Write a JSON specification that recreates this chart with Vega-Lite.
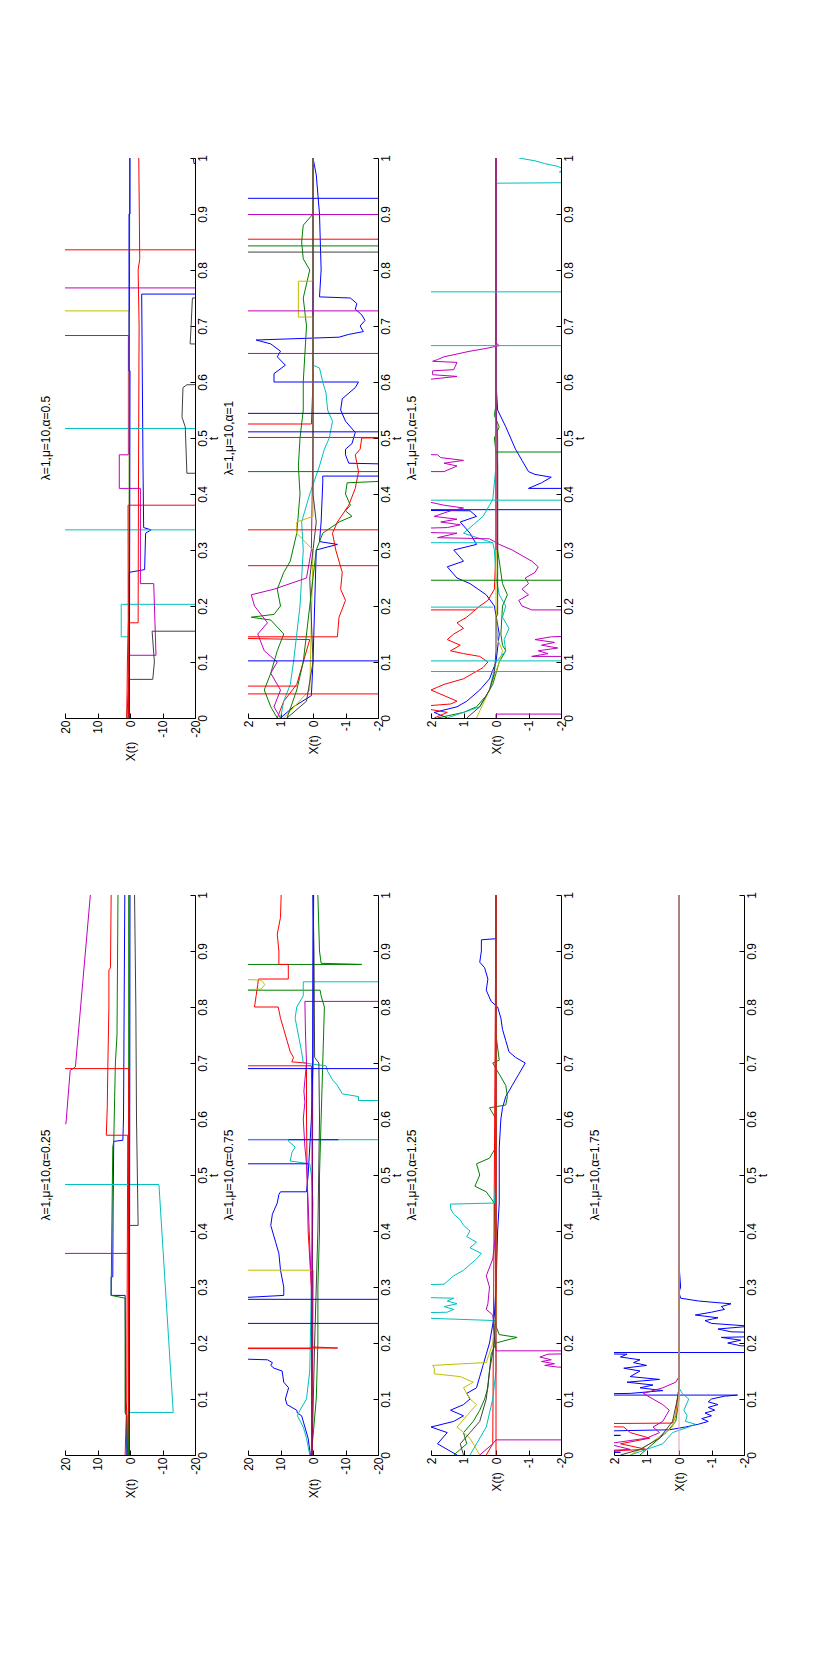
{
"$schema": "https://vega.github.io/schema/vega-lite/v6.json",
"background": "white",
"padding": {"left": 39, "top": 154, "right": 5, "bottom": 5},
"config": {
  "view": {"stroke": null},
  "font": "Liberation Sans, Arial, sans-serif",
  "axis": {"grid": false, "domainColor": "#000000", "tickColor": "#000000", "labelColor": "#000000", "titleColor": "#000000", "labelFontSize": 12, "titleFontSize": 12, "titleFontWeight": "normal", "tickSize": -5, "domainWidth": 1, "tickWidth": 1},
  "axisX": {"labelAngle": 270, "labelAlign": "right", "labelBaseline": "middle", "labelFlush": false, "labelPadding": 7, "titleAngle": 270, "titleAlign": "right", "titleBaseline": "middle", "titlePadding": 4},
  "axisY": {"labelAngle": 270, "labelAlign": "center", "labelBaseline": "top", "labelPadding": 7, "titleAngle": 270, "titleAlign": "center", "titleBaseline": "top", "titlePadding": 0},
  "title": {"orient": "left", "anchor": "middle", "frame": "group", "offset": 6, "fontSize": 12, "fontWeight": "normal", "color": "#000000"}
},
"datasets": {
"a": [
{"c":"b","g":1,"t":0,"x":0.5},{"c":"b","g":1,"t":0.26,"x":0.3},{"c":"b","g":1,"t":0.265,"x":-4.5},{"c":"b","g":1,"t":0.33,"x":-4.8},{"c":"b","g":1,"t":0.336,"x":-6.5},{"c":"b","g":1,"t":0.34,"x":-4.2},{"c":"b","g":1,"t":0.45,"x":-4},{"c":"b","g":1,"t":0.6,"x":-3.8},{"c":"b","g":1,"t":0.757,"x":-3.6},{"c":"b","g":1,"t":0.757,"x":-60},{"c":"b","g":1,"t":0.99,"x":-60},{"c":"b","g":1,"t":0.99,"x":-19.7},{"c":"b","g":1,"t":1,"x":-19.5},
{"c":"g","g":2,"t":0,"x":1},{"c":"g","g":2,"t":0.05,"x":0.5},{"c":"g","g":2,"t":0.2,"x":0.3},{"c":"g","g":2,"t":0.5,"x":0.2},{"c":"g","g":2,"t":1,"x":0.1},
{"c":"r","g":3,"t":0,"x":1},{"c":"r","g":3,"t":0.1,"x":0.8},{"c":"r","g":3,"t":0.17,"x":0.5},{"c":"r","g":3,"t":0.17,"x":-2.5},{"c":"r","g":3,"t":0.4,"x":-2.6},{"c":"r","g":3,"t":0.7,"x":-2.8},{"c":"r","g":3,"t":0.8,"x":-2.5},{"c":"r","g":3,"t":0.82,"x":-3},{"c":"r","g":3,"t":1,"x":-2.7},
{"c":"c","g":4,"t":0,"x":0.5},{"c":"c","g":4,"t":0.145,"x":0.3},{"c":"c","g":4,"t":0.145,"x":2.7},{"c":"c","g":4,"t":0.203,"x":2.7},{"c":"c","g":4,"t":0.203,"x":-60},{"c":"c","g":4,"t":0.336,"x":-60},{"c":"c","g":4,"t":0.336,"x":60},{"c":"c","g":4,"t":0.517,"x":60},{"c":"c","g":4,"t":0.517,"x":-60},{"c":"c","g":4,"t":1,"x":-60},
{"c":"m","g":5,"t":0,"x":0.5},{"c":"m","g":5,"t":0.112,"x":0.3},{"c":"m","g":5,"t":0.112,"x":-8},{"c":"m","g":5,"t":0.24,"x":-7.3},{"c":"m","g":5,"t":0.24,"x":-3.2},{"c":"m","g":5,"t":0.41,"x":-3.2},{"c":"m","g":5,"t":0.41,"x":3.3},{"c":"m","g":5,"t":0.47,"x":3.3},{"c":"m","g":5,"t":0.47,"x":0.5},{"c":"m","g":5,"t":0.683,"x":0.5},{"c":"m","g":5,"t":0.683,"x":60},{"c":"m","g":5,"t":0.768,"x":60},{"c":"m","g":5,"t":0.768,"x":-60},{"c":"m","g":5,"t":1,"x":-60},
{"c":"y","g":6,"t":0,"x":0.3},{"c":"y","g":6,"t":0.3,"x":0.2},{"c":"y","g":6,"t":0.727,"x":0.3},{"c":"y","g":6,"t":0.727,"x":60},{"c":"y","g":6,"t":1,"x":60},
{"c":"k","g":7,"t":0,"x":0.5},{"c":"k","g":7,"t":0.069,"x":0.3},{"c":"k","g":7,"t":0.069,"x":-7},{"c":"k","g":7,"t":0.1,"x":-7.5},{"c":"k","g":7,"t":0.155,"x":-6.8},{"c":"k","g":7,"t":0.155,"x":-60},{"c":"k","g":7,"t":0.437,"x":-60},{"c":"k","g":7,"t":0.437,"x":-17.5},{"c":"k","g":7,"t":0.52,"x":-17},{"c":"k","g":7,"t":0.537,"x":-16},{"c":"k","g":7,"t":0.59,"x":-16.3},{"c":"k","g":7,"t":0.595,"x":-17.5},{"c":"k","g":7,"t":0.6,"x":-60},{"c":"k","g":7,"t":0.665,"x":-60},{"c":"k","g":7,"t":0.668,"x":-18.5},{"c":"k","g":7,"t":0.7,"x":-18.8},{"c":"k","g":7,"t":0.75,"x":-19.2},{"c":"k","g":7,"t":0.752,"x":-60},{"c":"k","g":7,"t":1,"x":-60},
{"c":"b","g":8,"t":0,"x":0.2},{"c":"b","g":8,"t":0.62,"x":0},{"c":"b","g":8,"t":0.62,"x":0.3},{"c":"b","g":8,"t":0.9,"x":0.3},{"c":"b","g":8,"t":0.9,"x":0},{"c":"b","g":8,"t":1,"x":0},
{"c":"r","g":9,"t":0,"x":0.5},{"c":"r","g":9,"t":0.38,"x":0.6},{"c":"r","g":9,"t":0.38,"x":-60},{"c":"r","g":9,"t":0.836,"x":-60},{"c":"r","g":9,"t":0.836,"x":60},{"c":"r","g":9,"t":1,"x":60}
],
"b": [
{"c":"b","g":1,"t":0,"x":1},{"c":"b","g":1,"t":0.02,"x":0.6},{"c":"b","g":1,"t":0.04,"x":0.05},{"c":"b","g":1,"t":0.1,"x":0},{"c":"b","g":1,"t":0.2,"x":-0.05},{"c":"b","g":1,"t":0.3,"x":-0.1},{"c":"b","g":1,"t":0.31,"x":-0.75},{"c":"b","g":1,"t":0.315,"x":-0.2},{"c":"b","g":1,"t":0.35,"x":-0.25},{"c":"b","g":1,"t":0.42,"x":-0.3},{"c":"b","g":1,"t":0.432,"x":-0.3},{"c":"b","g":1,"t":0.432,"x":-5},{"c":"b","g":1,"t":0.45,"x":-5},{"c":"b","g":1,"t":0.455,"x":-1.1},{"c":"b","g":1,"t":0.47,"x":-1},{"c":"b","g":1,"t":0.48,"x":-1},{"c":"b","g":1,"t":0.49,"x":-1.2},{"c":"b","g":1,"t":0.51,"x":-1.3},{"c":"b","g":1,"t":0.53,"x":-1},{"c":"b","g":1,"t":0.55,"x":-0.85},{"c":"b","g":1,"t":0.57,"x":-0.9},{"c":"b","g":1,"t":0.59,"x":-1.3},{"c":"b","g":1,"t":0.6,"x":-1.4},{"c":"b","g":1,"t":0.6,"x":1.2},{"c":"b","g":1,"t":0.615,"x":1.2},{"c":"b","g":1,"t":0.63,"x":0.85},{"c":"b","g":1,"t":0.645,"x":1.1},{"c":"b","g":1,"t":0.655,"x":1},{"c":"b","g":1,"t":0.668,"x":1.3},{"c":"b","g":1,"t":0.675,"x":1.75},{"c":"b","g":1,"t":0.68,"x":-0.8},{"c":"b","g":1,"t":0.685,"x":-1.1},{"c":"b","g":1,"t":0.69,"x":-1.55},{"c":"b","g":1,"t":0.7,"x":-1.45},{"c":"b","g":1,"t":0.71,"x":-1.6},{"c":"b","g":1,"t":0.72,"x":-1.5},{"c":"b","g":1,"t":0.73,"x":-1.3},{"c":"b","g":1,"t":0.74,"x":-1.35},{"c":"b","g":1,"t":0.75,"x":-1.15},{"c":"b","g":1,"t":0.752,"x":-0.2},{"c":"b","g":1,"t":0.8,"x":-0.25},{"c":"b","g":1,"t":0.9,"x":-0.2},{"c":"b","g":1,"t":0.97,"x":-0.1},{"c":"b","g":1,"t":1,"x":0},
{"c":"g","g":2,"t":0,"x":1.1},{"c":"g","g":2,"t":0.02,"x":1.3},{"c":"g","g":2,"t":0.05,"x":1.5},{"c":"g","g":2,"t":0.08,"x":1.3},{"c":"g","g":2,"t":0.12,"x":1.1},{"c":"g","g":2,"t":0.15,"x":0.9},{"c":"g","g":2,"t":0.175,"x":1.3},{"c":"g","g":2,"t":0.18,"x":1.9},{"c":"g","g":2,"t":0.185,"x":1.2},{"c":"g","g":2,"t":0.2,"x":1},{"c":"g","g":2,"t":0.23,"x":1.1},{"c":"g","g":2,"t":0.26,"x":0.9},{"c":"g","g":2,"t":0.28,"x":0.7},{"c":"g","g":2,"t":0.33,"x":0.5},{"c":"g","g":2,"t":0.4,"x":0.4},{"c":"g","g":2,"t":0.45,"x":0.45},{"c":"g","g":2,"t":0.5,"x":0.4},{"c":"g","g":2,"t":0.55,"x":0.3},{"c":"g","g":2,"t":0.6,"x":0.3},{"c":"g","g":2,"t":0.65,"x":0.25},{"c":"g","g":2,"t":0.7,"x":0.2},{"c":"g","g":2,"t":0.75,"x":0.3},{"c":"g","g":2,"t":0.8,"x":0.1},{"c":"g","g":2,"t":0.82,"x":0.3},{"c":"g","g":2,"t":0.85,"x":0.35},{"c":"g","g":2,"t":0.88,"x":0.3},{"c":"g","g":2,"t":0.9,"x":0},{"c":"g","g":2,"t":1,"x":0},
{"c":"r","g":3,"t":0,"x":1.1},{"c":"r","g":3,"t":0.03,"x":0.9},{"c":"r","g":3,"t":0.06,"x":0.5},{"c":"r","g":3,"t":0.1,"x":0.3},{"c":"r","g":3,"t":0.14,"x":0.1},{"c":"r","g":3,"t":0.145,"x":5},{"c":"r","g":3,"t":0.145,"x":-0.75},{"c":"r","g":3,"t":0.18,"x":-0.8},{"c":"r","g":3,"t":0.21,"x":-1},{"c":"r","g":3,"t":0.23,"x":-0.85},{"c":"r","g":3,"t":0.26,"x":-0.9},{"c":"r","g":3,"t":0.3,"x":-0.7},{"c":"r","g":3,"t":0.33,"x":-0.6},{"c":"r","g":3,"t":0.35,"x":-0.75},{"c":"r","g":3,"t":0.38,"x":-1.1},{"c":"r","g":3,"t":0.41,"x":-1.3},{"c":"r","g":3,"t":0.44,"x":-1.4},{"c":"r","g":3,"t":0.47,"x":-1.3},{"c":"r","g":3,"t":0.48,"x":-1.45},{"c":"r","g":3,"t":0.5,"x":-1.5},{"c":"r","g":3,"t":0.501,"x":-5},{"c":"r","g":3,"t":0.501,"x":5},{"c":"r","g":3,"t":0.525,"x":5},{"c":"r","g":3,"t":0.525,"x":0.05},{"c":"r","g":3,"t":0.6,"x":0},{"c":"r","g":3,"t":1,"x":0},
{"c":"c","g":4,"t":0,"x":1},{"c":"c","g":4,"t":0.03,"x":0.9},{"c":"c","g":4,"t":0.06,"x":0.7},{"c":"c","g":4,"t":0.1,"x":0.6},{"c":"c","g":4,"t":0.15,"x":0.5},{"c":"c","g":4,"t":0.2,"x":0.4},{"c":"c","g":4,"t":0.25,"x":0.35},{"c":"c","g":4,"t":0.3,"x":0.3},{"c":"c","g":4,"t":0.35,"x":0.35},{"c":"c","g":4,"t":0.4,"x":0.1},{"c":"c","g":4,"t":0.45,"x":-0.2},{"c":"c","g":4,"t":0.48,"x":-0.35},{"c":"c","g":4,"t":0.5,"x":-0.5},{"c":"c","g":4,"t":0.53,"x":-0.6},{"c":"c","g":4,"t":0.55,"x":-0.45},{"c":"c","g":4,"t":0.58,"x":-0.4},{"c":"c","g":4,"t":0.6,"x":-0.3},{"c":"c","g":4,"t":0.625,"x":-0.2},{"c":"c","g":4,"t":0.63,"x":0},{"c":"c","g":4,"t":1,"x":0},
{"c":"m","g":5,"t":0,"x":1},{"c":"m","g":5,"t":0.02,"x":1.2},{"c":"m","g":5,"t":0.05,"x":1},{"c":"m","g":5,"t":0.08,"x":1.3},{"c":"m","g":5,"t":0.1,"x":1.1},{"c":"m","g":5,"t":0.12,"x":1.5},{"c":"m","g":5,"t":0.15,"x":1.7},{"c":"m","g":5,"t":0.17,"x":1.4},{"c":"m","g":5,"t":0.2,"x":1.8},{"c":"m","g":5,"t":0.22,"x":1.9},{"c":"m","g":5,"t":0.23,"x":1.2},{"c":"m","g":5,"t":0.25,"x":0.2},{"c":"m","g":5,"t":0.3,"x":0.05},{"c":"m","g":5,"t":0.5,"x":0},{"c":"m","g":5,"t":1,"x":0},
{"c":"y","g":6,"t":0,"x":0.9},{"c":"y","g":6,"t":0.05,"x":0.1},{"c":"y","g":6,"t":0.3,"x":0},{"c":"y","g":6,"t":0.33,"x":0.5},{"c":"y","g":6,"t":0.35,"x":0.5},{"c":"y","g":6,"t":0.36,"x":0},{"c":"y","g":6,"t":0.716,"x":0},{"c":"y","g":6,"t":0.716,"x":0.45},{"c":"y","g":6,"t":0.78,"x":0.45},{"c":"y","g":6,"t":0.78,"x":0},{"c":"y","g":6,"t":1,"x":0},
{"c":"k","g":7,"t":0,"x":0.8},{"c":"k","g":7,"t":0.03,"x":0.2},{"c":"k","g":7,"t":0.1,"x":0},{"c":"k","g":7,"t":0.25,"x":0.1},{"c":"k","g":7,"t":0.35,"x":-0.1},{"c":"k","g":7,"t":0.4,"x":0},{"c":"k","g":7,"t":1,"x":0},
{"c":"g","g":8,"t":0,"x":0.8},{"c":"g","g":8,"t":0.05,"x":0.5},{"c":"g","g":8,"t":0.1,"x":0.3},{"c":"g","g":8,"t":0.2,"x":0.1},{"c":"g","g":8,"t":0.25,"x":0},{"c":"g","g":8,"t":0.3,"x":-0.1},{"c":"g","g":8,"t":0.33,"x":-0.3},{"c":"g","g":8,"t":0.35,"x":-0.8},{"c":"g","g":8,"t":0.36,"x":-1.2},{"c":"g","g":8,"t":0.37,"x":-1},{"c":"g","g":8,"t":0.38,"x":-1.15},{"c":"g","g":8,"t":0.4,"x":-1},{"c":"g","g":8,"t":0.42,"x":-1.05},{"c":"g","g":8,"t":0.43,"x":-5},{"c":"g","g":8,"t":0.44,"x":-5},{"c":"g","g":8,"t":0.44,"x":5},{"c":"g","g":8,"t":0.843,"x":5},{"c":"g","g":8,"t":0.843,"x":-5},{"c":"g","g":8,"t":1,"x":-5},
{"c":"r","g":10,"t":0.043,"x":5},{"c":"r","g":10,"t":0.043,"x":-5},
{"c":"r","g":11,"t":0.057,"x":5},{"c":"r","g":11,"t":0.057,"x":0.5},
{"c":"b","g":12,"t":0.102,"x":5},{"c":"b","g":12,"t":0.102,"x":-5},
{"c":"r","g":13,"t":0.272,"x":5},{"c":"r","g":13,"t":0.272,"x":-5},
{"c":"r","g":14,"t":0.336,"x":5},{"c":"r","g":14,"t":0.336,"x":-5},
{"c":"b","g":15,"t":0.511,"x":5},{"c":"b","g":15,"t":0.511,"x":-5},
{"c":"b","g":16,"t":0.544,"x":5},{"c":"b","g":16,"t":0.544,"x":-5},
{"c":"m","g":17,"t":0.651,"x":5},{"c":"m","g":17,"t":0.651,"x":-5},
{"c":"m","g":18,"t":0.727,"x":5},{"c":"m","g":18,"t":0.727,"x":-5},
{"c":"k","g":19,"t":0.832,"x":5},{"c":"k","g":19,"t":0.832,"x":-5},
{"c":"r","g":20,"t":0.855,"x":5},{"c":"r","g":20,"t":0.855,"x":-5},
{"c":"m","g":21,"t":0.899,"x":5},{"c":"m","g":21,"t":0.899,"x":-5},
{"c":"b","g":22,"t":0.928,"x":5},{"c":"b","g":22,"t":0.928,"x":-5}
],
"c": [
{"c":"b","g":1,"t":0,"x":1.5},{"c":"b","g":1,"t":0.01,"x":1.9},{"c":"b","g":1,"t":0.02,"x":1.2},{"c":"b","g":1,"t":0.03,"x":0.9},{"c":"b","g":1,"t":0.05,"x":0.5},{"c":"b","g":1,"t":0.07,"x":0.2},{"c":"b","g":1,"t":0.1,"x":0},{"c":"b","g":1,"t":0.15,"x":-0.1},{"c":"b","g":1,"t":0.2,"x":0.05},{"c":"b","g":1,"t":0.22,"x":0.3},{"c":"b","g":1,"t":0.24,"x":0.8},{"c":"b","g":1,"t":0.25,"x":1.2},{"c":"b","g":1,"t":0.27,"x":1.5},{"c":"b","g":1,"t":0.28,"x":1},{"c":"b","g":1,"t":0.3,"x":1.3},{"c":"b","g":1,"t":0.31,"x":0.6},{"c":"b","g":1,"t":0.33,"x":0.8},{"c":"b","g":1,"t":0.35,"x":1.1},{"c":"b","g":1,"t":0.36,"x":0.6},{"c":"b","g":1,"t":0.37,"x":0.8},{"c":"b","g":1,"t":0.372,"x":5},{"c":"b","g":1,"t":0.372,"x":-5},{"c":"b","g":1,"t":0.41,"x":-5},{"c":"b","g":1,"t":0.41,"x":-1},{"c":"b","g":1,"t":0.42,"x":-1.4},{"c":"b","g":1,"t":0.43,"x":-1.7},{"c":"b","g":1,"t":0.435,"x":-1.2},{"c":"b","g":1,"t":0.44,"x":-1},{"c":"b","g":1,"t":0.45,"x":-0.9},{"c":"b","g":1,"t":0.46,"x":-0.8},{"c":"b","g":1,"t":0.48,"x":-0.6},{"c":"b","g":1,"t":0.5,"x":-0.45},{"c":"b","g":1,"t":0.52,"x":-0.3},{"c":"b","g":1,"t":0.55,"x":-0.05},{"c":"b","g":1,"t":0.6,"x":0},{"c":"b","g":1,"t":1,"x":0},
{"c":"g","g":2,"t":0,"x":1.8},{"c":"g","g":2,"t":0.01,"x":1},{"c":"g","g":2,"t":0.02,"x":0.6},{"c":"g","g":2,"t":0.04,"x":0.3},{"c":"g","g":2,"t":0.06,"x":0.1},{"c":"g","g":2,"t":0.1,"x":-0.1},{"c":"g","g":2,"t":0.12,"x":-0.3},{"c":"g","g":2,"t":0.13,"x":-0.2},{"c":"g","g":2,"t":0.15,"x":-0.15},{"c":"g","g":2,"t":0.2,"x":-0.2},{"c":"g","g":2,"t":0.22,"x":-0.35},{"c":"g","g":2,"t":0.24,"x":-0.2},{"c":"g","g":2,"t":0.3,"x":-0.05},{"c":"g","g":2,"t":0.45,"x":-0.05},{"c":"g","g":2,"t":0.475,"x":0},{"c":"g","g":2,"t":0.5,"x":0.05},{"c":"g","g":2,"t":0.52,"x":-0.1},{"c":"g","g":2,"t":0.54,"x":0.05},{"c":"g","g":2,"t":0.56,"x":0},{"c":"g","g":2,"t":1,"x":0},
{"c":"r","g":3,"t":0,"x":1.9},{"c":"r","g":3,"t":0.01,"x":1.5},{"c":"r","g":3,"t":0.02,"x":2.5},{"c":"r","g":3,"t":0.025,"x":1.4},{"c":"r","g":3,"t":0.03,"x":1.2},{"c":"r","g":3,"t":0.04,"x":1.6},{"c":"r","g":3,"t":0.05,"x":2},{"c":"r","g":3,"t":0.055,"x":1.8},{"c":"r","g":3,"t":0.06,"x":1.6},{"c":"r","g":3,"t":0.07,"x":1},{"c":"r","g":3,"t":0.08,"x":0.7},{"c":"r","g":3,"t":0.09,"x":0.4},{"c":"r","g":3,"t":0.1,"x":0.25},{"c":"r","g":3,"t":0.11,"x":0.5},{"c":"r","g":3,"t":0.115,"x":1},{"c":"r","g":3,"t":0.12,"x":1.4},{"c":"r","g":3,"t":0.13,"x":1.1},{"c":"r","g":3,"t":0.14,"x":1.5},{"c":"r","g":3,"t":0.15,"x":1.3},{"c":"r","g":3,"t":0.16,"x":1},{"c":"r","g":3,"t":0.17,"x":1.2},{"c":"r","g":3,"t":0.18,"x":0.9},{"c":"r","g":3,"t":0.19,"x":0.7},{"c":"r","g":3,"t":0.2,"x":0.5},{"c":"r","g":3,"t":0.21,"x":0.25},{"c":"r","g":3,"t":0.23,"x":0.05},{"c":"r","g":3,"t":0.3,"x":0},{"c":"r","g":3,"t":1,"x":0},
{"c":"c","g":4,"t":0,"x":1.5},{"c":"c","g":4,"t":0.02,"x":0.5},{"c":"c","g":4,"t":0.05,"x":0.2},{"c":"c","g":4,"t":0.1,"x":0},{"c":"c","g":4,"t":0.12,"x":-0.3},{"c":"c","g":4,"t":0.14,"x":-0.25},{"c":"c","g":4,"t":0.16,"x":-0.4},{"c":"c","g":4,"t":0.18,"x":-0.2},{"c":"c","g":4,"t":0.2,"x":-0.3},{"c":"c","g":4,"t":0.22,"x":-0.1},{"c":"c","g":4,"t":0.25,"x":0},{"c":"c","g":4,"t":0.3,"x":0.05},{"c":"c","g":4,"t":0.313,"x":0.1},{"c":"c","g":4,"t":0.33,"x":1},{"c":"c","g":4,"t":0.345,"x":0.7},{"c":"c","g":4,"t":0.36,"x":0.4},{"c":"c","g":4,"t":0.38,"x":0.2},{"c":"c","g":4,"t":0.39,"x":0.1},{"c":"c","g":4,"t":0.45,"x":0},{"c":"c","g":4,"t":0.955,"x":0},{"c":"c","g":4,"t":0.957,"x":-5},{"c":"c","g":4,"t":0.97,"x":-5},{"c":"c","g":4,"t":0.975,"x":-1.95},{"c":"c","g":4,"t":0.98,"x":-2.1},{"c":"c","g":4,"t":0.985,"x":-1.9},{"c":"c","g":4,"t":0.99,"x":-1.5},{"c":"c","g":4,"t":0.995,"x":-1.2},{"c":"c","g":4,"t":1,"x":-0.7},
{"c":"m","g":5,"t":0,"x":0},{"c":"m","g":5,"t":0.007,"x":0},{"c":"m","g":5,"t":0.007,"x":-5},{"c":"m","g":5,"t":0.11,"x":-5},{"c":"m","g":5,"t":0.11,"x":-1.1},{"c":"m","g":5,"t":0.115,"x":-1.6},{"c":"m","g":5,"t":0.12,"x":-1.3},{"c":"m","g":5,"t":0.125,"x":-1.9},{"c":"m","g":5,"t":0.13,"x":-1.4},{"c":"m","g":5,"t":0.135,"x":-1.8},{"c":"m","g":5,"t":0.14,"x":-1.2},{"c":"m","g":5,"t":0.145,"x":-1.7},{"c":"m","g":5,"t":0.15,"x":-5},{"c":"m","g":5,"t":0.193,"x":-5},{"c":"m","g":5,"t":0.193,"x":-1.1},{"c":"m","g":5,"t":0.2,"x":-0.8},{"c":"m","g":5,"t":0.21,"x":-0.7},{"c":"m","g":5,"t":0.22,"x":-1},{"c":"m","g":5,"t":0.23,"x":-0.8},{"c":"m","g":5,"t":0.24,"x":-1},{"c":"m","g":5,"t":0.25,"x":-0.9},{"c":"m","g":5,"t":0.26,"x":-1.2},{"c":"m","g":5,"t":0.27,"x":-1.3},{"c":"m","g":5,"t":0.28,"x":-1.1},{"c":"m","g":5,"t":0.29,"x":-0.8},{"c":"m","g":5,"t":0.3,"x":-0.5},{"c":"m","g":5,"t":0.31,"x":-0.1},{"c":"m","g":5,"t":0.32,"x":0.2},{"c":"m","g":5,"t":0.322,"x":1.8},{"c":"m","g":5,"t":0.33,"x":1.2},{"c":"m","g":5,"t":0.335,"x":5},{"c":"m","g":5,"t":0.34,"x":1.5},{"c":"m","g":5,"t":0.345,"x":1.1},{"c":"m","g":5,"t":0.35,"x":1.7},{"c":"m","g":5,"t":0.355,"x":1.2},{"c":"m","g":5,"t":0.36,"x":1.9},{"c":"m","g":5,"t":0.37,"x":1.4},{"c":"m","g":5,"t":0.375,"x":1},{"c":"m","g":5,"t":0.38,"x":1.6},{"c":"m","g":5,"t":0.385,"x":2},{"c":"m","g":5,"t":0.39,"x":5},{"c":"m","g":5,"t":0.44,"x":5},{"c":"m","g":5,"t":0.44,"x":1.6},{"c":"m","g":5,"t":0.45,"x":1.2},{"c":"m","g":5,"t":0.455,"x":1.6},{"c":"m","g":5,"t":0.46,"x":1},{"c":"m","g":5,"t":0.465,"x":1.7},{"c":"m","g":5,"t":0.47,"x":1.8},{"c":"m","g":5,"t":0.475,"x":5},{"c":"m","g":5,"t":0.6,"x":5},{"c":"m","g":5,"t":0.605,"x":2},{"c":"m","g":5,"t":0.61,"x":1.2},{"c":"m","g":5,"t":0.613,"x":1.95},{"c":"m","g":5,"t":0.62,"x":1.95},{"c":"m","g":5,"t":0.622,"x":1.3},{"c":"m","g":5,"t":0.635,"x":1.2},{"c":"m","g":5,"t":0.637,"x":1.95},{"c":"m","g":5,"t":0.64,"x":1.8},{"c":"m","g":5,"t":0.645,"x":1.6},{"c":"m","g":5,"t":0.65,"x":1.2},{"c":"m","g":5,"t":0.655,"x":0.8},{"c":"m","g":5,"t":0.66,"x":0.3},{"c":"m","g":5,"t":0.665,"x":-0.1},{"c":"m","g":5,"t":0.67,"x":0},{"c":"m","g":5,"t":1,"x":0},
{"c":"y","g":6,"t":0,"x":0.6},{"c":"y","g":6,"t":0.05,"x":0.2},{"c":"y","g":6,"t":0.1,"x":-0.1},{"c":"y","g":6,"t":0.12,"x":-0.2},{"c":"y","g":6,"t":0.14,"x":-0.05},{"c":"y","g":6,"t":0.2,"x":0},{"c":"y","g":6,"t":1,"x":0},
{"c":"k","g":7,"t":0,"x":0.9},{"c":"k","g":7,"t":0.02,"x":0.5},{"c":"k","g":7,"t":0.05,"x":0.2},{"c":"k","g":7,"t":0.08,"x":0.05},{"c":"k","g":7,"t":0.12,"x":0},{"c":"k","g":7,"t":0.18,"x":0},{"c":"k","g":7,"t":0.185,"x":-0.05},{"c":"k","g":7,"t":0.5,"x":-0.05},{"c":"k","g":7,"t":0.55,"x":0},{"c":"k","g":7,"t":1,"x":0},
{"c":"m","g":8,"t":0.3,"x":0},{"c":"m","g":8,"t":1,"x":0},
{"c":"c","g":10,"t":0.083,"x":5},{"c":"c","g":10,"t":0.083,"x":-5},
{"c":"c","g":11,"t":0.102,"x":5},{"c":"c","g":11,"t":0.102,"x":-5},
{"c":"c","g":12,"t":0.198,"x":5},{"c":"c","g":12,"t":0.198,"x":0.1},
{"c":"c","g":13,"t":0.313,"x":5},{"c":"c","g":13,"t":0.313,"x":0.1},
{"c":"c","g":14,"t":0.389,"x":5},{"c":"c","g":14,"t":0.389,"x":-5},
{"c":"c","g":15,"t":0.665,"x":5},{"c":"c","g":15,"t":0.665,"x":-5},
{"c":"c","g":16,"t":0.761,"x":5},{"c":"c","g":16,"t":0.761,"x":-5},
{"c":"g","g":17,"t":0.246,"x":5},{"c":"g","g":17,"t":0.246,"x":-5},
{"c":"g","g":18,"t":0.475,"x":0},{"c":"g","g":18,"t":0.475,"x":-5},
{"c":"r","g":19,"t":0.193,"x":5},{"c":"r","g":19,"t":0.193,"x":0.65}
],
"d": [
{"c":"b","g":1,"t":0,"x":1},{"c":"b","g":1,"t":0.07,"x":1},{"c":"b","g":1,"t":0.08,"x":1.4},{"c":"b","g":1,"t":0.2,"x":1.4},{"c":"b","g":1,"t":0.285,"x":1.5},{"c":"b","g":1,"t":0.285,"x":5.8},{"c":"b","g":1,"t":0.318,"x":5.8},{"c":"b","g":1,"t":0.318,"x":5.3},{"c":"b","g":1,"t":0.45,"x":5.2},{"c":"b","g":1,"t":0.56,"x":5},{"c":"b","g":1,"t":0.562,"x":2.2},{"c":"b","g":1,"t":0.6,"x":2},{"c":"b","g":1,"t":0.8,"x":1.8},{"c":"b","g":1,"t":1,"x":1.6},
{"c":"g","g":2,"t":0,"x":0.8},{"c":"g","g":2,"t":0.07,"x":1},{"c":"g","g":2,"t":0.075,"x":1.5},{"c":"g","g":2,"t":0.28,"x":1.5},{"c":"g","g":2,"t":0.285,"x":5.8},{"c":"g","g":2,"t":0.4,"x":5.6},{"c":"g","g":2,"t":0.55,"x":5.3},{"c":"g","g":2,"t":0.56,"x":5},{"c":"g","g":2,"t":0.7,"x":4.5},{"c":"g","g":2,"t":0.75,"x":4},{"c":"g","g":2,"t":1,"x":3.7},
{"c":"r","g":3,"t":0,"x":1.5},{"c":"r","g":3,"t":0.1,"x":1},{"c":"r","g":3,"t":0.4,"x":0.8},{"c":"r","g":3,"t":0.571,"x":0.7},{"c":"r","g":3,"t":0.571,"x":7.3},{"c":"r","g":3,"t":0.62,"x":7},{"c":"r","g":3,"t":0.7,"x":6.8},{"c":"r","g":3,"t":0.8,"x":6.5},{"c":"r","g":3,"t":0.866,"x":6.5},{"c":"r","g":3,"t":0.87,"x":6},{"c":"r","g":3,"t":1,"x":5.8},
{"c":"c","g":4,"t":0,"x":0.5},{"c":"c","g":4,"t":0.076,"x":0.4},{"c":"c","g":4,"t":0.076,"x":-13.3},{"c":"c","g":4,"t":0.483,"x":-8.9},{"c":"c","g":4,"t":0.483,"x":25},{"c":"c","g":4,"t":1,"x":25},
{"c":"m","g":5,"t":0,"x":0.5},{"c":"m","g":5,"t":0.36,"x":0.3},{"c":"m","g":5,"t":0.36,"x":25},{"c":"m","g":5,"t":0.58,"x":25},{"c":"m","g":5,"t":0.592,"x":19.7},{"c":"m","g":5,"t":0.687,"x":18.4},{"c":"m","g":5,"t":0.69,"x":17.5},{"c":"m","g":5,"t":0.693,"x":16.8},{"c":"m","g":5,"t":1,"x":12.2},
{"c":"y","g":6,"t":0,"x":0.3},{"c":"y","g":6,"t":1,"x":0.2},
{"c":"k","g":7,"t":0,"x":0.3},{"c":"k","g":7,"t":0.41,"x":0.3},{"c":"k","g":7,"t":0.41,"x":-2.5},{"c":"k","g":7,"t":0.6,"x":-2},{"c":"k","g":7,"t":0.8,"x":-1.8},{"c":"k","g":7,"t":1,"x":-1.4},
{"c":"b","g":8,"t":0,"x":0.2},{"c":"b","g":8,"t":1,"x":0},
{"c":"g","g":9,"t":0,"x":0.4},{"c":"g","g":9,"t":1,"x":0.4},
{"c":"r","g":10,"t":0,"x":0.8},{"c":"r","g":10,"t":0.1,"x":0.5},{"c":"r","g":10,"t":0.69,"x":0.4},{"c":"r","g":10,"t":0.69,"x":25},{"c":"r","g":10,"t":1,"x":25}
],
"e": [
{"c":"b","g":1,"t":0,"x":0.8},{"c":"b","g":1,"t":0.03,"x":1.5},{"c":"b","g":1,"t":0.05,"x":2.5},{"c":"b","g":1,"t":0.07,"x":3.5},{"c":"b","g":1,"t":0.075,"x":4.8},{"c":"b","g":1,"t":0.08,"x":5},{"c":"b","g":1,"t":0.09,"x":8},{"c":"b","g":1,"t":0.1,"x":8.5},{"c":"b","g":1,"t":0.12,"x":7.5},{"c":"b","g":1,"t":0.13,"x":9},{"c":"b","g":1,"t":0.15,"x":9.5},{"c":"b","g":1,"t":0.155,"x":12},{"c":"b","g":1,"t":0.16,"x":13},{"c":"b","g":1,"t":0.165,"x":12.5},{"c":"b","g":1,"t":0.17,"x":14},{"c":"b","g":1,"t":0.172,"x":25},{"c":"b","g":1,"t":0.28,"x":25},{"c":"b","g":1,"t":0.285,"x":9},{"c":"b","g":1,"t":0.3,"x":9},{"c":"b","g":1,"t":0.33,"x":10},{"c":"b","g":1,"t":0.36,"x":10.5},{"c":"b","g":1,"t":0.38,"x":11.5},{"c":"b","g":1,"t":0.41,"x":13},{"c":"b","g":1,"t":0.43,"x":12.5},{"c":"b","g":1,"t":0.45,"x":11},{"c":"b","g":1,"t":0.465,"x":10.5},{"c":"b","g":1,"t":0.47,"x":10},{"c":"b","g":1,"t":0.47,"x":2},{"c":"b","g":1,"t":0.5,"x":1.5},{"c":"b","g":1,"t":0.55,"x":1},{"c":"b","g":1,"t":0.6,"x":0.5},{"c":"b","g":1,"t":0.65,"x":0.3},{"c":"b","g":1,"t":0.7,"x":0},{"c":"b","g":1,"t":1,"x":-0.2},
{"c":"g","g":2,"t":0,"x":0.5},{"c":"g","g":2,"t":0.1,"x":-1},{"c":"g","g":2,"t":0.2,"x":-1.5},{"c":"g","g":2,"t":0.3,"x":-1.5},{"c":"g","g":2,"t":0.4,"x":-2},{"c":"g","g":2,"t":0.5,"x":-2},{"c":"g","g":2,"t":0.6,"x":-2.5},{"c":"g","g":2,"t":0.7,"x":-3},{"c":"g","g":2,"t":0.8,"x":-3.5},{"c":"g","g":2,"t":0.82,"x":-2.5},{"c":"g","g":2,"t":0.83,"x":-2.2},{"c":"g","g":2,"t":0.83,"x":25},{"c":"g","g":2,"t":0.876,"x":25},{"c":"g","g":2,"t":0.876,"x":-15},{"c":"g","g":2,"t":0.878,"x":-2.5},{"c":"g","g":2,"t":0.9,"x":-2},{"c":"g","g":2,"t":1,"x":-1.5},
{"c":"r","g":3,"t":0,"x":0.5},{"c":"r","g":3,"t":0.15,"x":0.3},{"c":"r","g":3,"t":0.3,"x":0.5},{"c":"r","g":3,"t":0.4,"x":1.5},{"c":"r","g":3,"t":0.5,"x":1.8},{"c":"r","g":3,"t":0.6,"x":2},{"c":"r","g":3,"t":0.7,"x":2},{"c":"r","g":3,"t":0.702,"x":6.5},{"c":"r","g":3,"t":0.71,"x":6},{"c":"r","g":3,"t":0.72,"x":7},{"c":"r","g":3,"t":0.74,"x":8},{"c":"r","g":3,"t":0.76,"x":9},{"c":"r","g":3,"t":0.78,"x":10},{"c":"r","g":3,"t":0.8,"x":10.7},{"c":"r","g":3,"t":0.8,"x":18},{"c":"r","g":3,"t":0.82,"x":17.5},{"c":"r","g":3,"t":0.84,"x":17},{"c":"r","g":3,"t":0.85,"x":16.8},{"c":"r","g":3,"t":0.85,"x":7.6},{"c":"r","g":3,"t":0.876,"x":7.6},{"c":"r","g":3,"t":0.876,"x":10.5},{"c":"r","g":3,"t":0.9,"x":10.5},{"c":"r","g":3,"t":0.93,"x":11},{"c":"r","g":3,"t":0.96,"x":10},{"c":"r","g":3,"t":1,"x":9.8},
{"c":"c","g":4,"t":0,"x":1},{"c":"c","g":4,"t":0.03,"x":2},{"c":"c","g":4,"t":0.05,"x":3},{"c":"c","g":4,"t":0.07,"x":4.8},{"c":"c","g":4,"t":0.08,"x":4},{"c":"c","g":4,"t":0.1,"x":2},{"c":"c","g":4,"t":0.15,"x":1},{"c":"c","g":4,"t":0.3,"x":0.5},{"c":"c","g":4,"t":0.45,"x":0},{"c":"c","g":4,"t":0.5,"x":0.5},{"c":"c","g":4,"t":0.52,"x":1},{"c":"c","g":4,"t":0.525,"x":7},{"c":"c","g":4,"t":0.54,"x":6.5},{"c":"c","g":4,"t":0.55,"x":5.5},{"c":"c","g":4,"t":0.56,"x":7.5},{"c":"c","g":4,"t":0.563,"x":7.5},{"c":"c","g":4,"t":0.563,"x":-25},{"c":"c","g":4,"t":0.633,"x":-25},{"c":"c","g":4,"t":0.633,"x":-14},{"c":"c","g":4,"t":0.64,"x":-14},{"c":"c","g":4,"t":0.645,"x":-9},{"c":"c","g":4,"t":0.66,"x":-7.5},{"c":"c","g":4,"t":0.67,"x":-6},{"c":"c","g":4,"t":0.685,"x":-4.5},{"c":"c","g":4,"t":0.695,"x":-4},{"c":"c","g":4,"t":0.7,"x":3},{"c":"c","g":4,"t":0.72,"x":3.5},{"c":"c","g":4,"t":0.75,"x":4.5},{"c":"c","g":4,"t":0.78,"x":5.5},{"c":"c","g":4,"t":0.8,"x":5},{"c":"c","g":4,"t":0.82,"x":3},{"c":"c","g":4,"t":0.845,"x":3},{"c":"c","g":4,"t":0.845,"x":-25},{"c":"c","g":4,"t":1,"x":-25},
{"c":"m","g":5,"t":0,"x":0.3},{"c":"m","g":5,"t":0.3,"x":0.5},{"c":"m","g":5,"t":0.45,"x":1.5},{"c":"m","g":5,"t":0.52,"x":2},{"c":"m","g":5,"t":0.55,"x":2.5},{"c":"m","g":5,"t":0.6,"x":3},{"c":"m","g":5,"t":0.63,"x":2.5},{"c":"m","g":5,"t":0.65,"x":2.8},{"c":"m","g":5,"t":0.7,"x":2},{"c":"m","g":5,"t":0.75,"x":2.3},{"c":"m","g":5,"t":0.81,"x":2.5},{"c":"m","g":5,"t":0.81,"x":-25},{"c":"m","g":5,"t":1,"x":-25},
{"c":"y","g":6,"t":0,"x":0.3},{"c":"y","g":6,"t":0.33,"x":-0.2},{"c":"y","g":6,"t":0.33,"x":25},{"c":"y","g":6,"t":0.83,"x":25},{"c":"y","g":6,"t":0.832,"x":16},{"c":"y","g":6,"t":0.84,"x":14.8},{"c":"y","g":6,"t":0.848,"x":16},{"c":"y","g":6,"t":0.85,"x":25},{"c":"y","g":6,"t":1,"x":25},
{"c":"k","g":7,"t":0,"x":0.3},{"c":"k","g":7,"t":0.2,"x":-0.5},{"c":"k","g":7,"t":0.4,"x":-1.5},{"c":"k","g":7,"t":0.6,"x":-2},{"c":"k","g":7,"t":0.7,"x":-1.8},{"c":"k","g":7,"t":0.71,"x":-0.5},{"c":"k","g":7,"t":0.9,"x":-0.3},{"c":"k","g":7,"t":1,"x":0},
{"c":"b","g":8,"t":0,"x":0.3},{"c":"b","g":8,"t":1,"x":0},
{"c":"r","g":9,"t":0,"x":0.3},{"c":"r","g":9,"t":0.19,"x":0.3},{"c":"r","g":9,"t":0.19,"x":25},{"c":"r","g":9,"t":0.191,"x":25},{"c":"r","g":9,"t":0.191,"x":-7.6},{"c":"r","g":9,"t":0.193,"x":0.3},{"c":"r","g":9,"t":0.6,"x":0.3},{"c":"r","g":9,"t":0.695,"x":0.5},{"c":"r","g":9,"t":0.695,"x":25},{"c":"r","g":9,"t":1,"x":25},
{"c":"b","g":10,"t":0.235,"x":25},{"c":"b","g":10,"t":0.235,"x":-25},
{"c":"b","g":11,"t":0.278,"x":25},{"c":"b","g":11,"t":0.278,"x":-25},
{"c":"b","g":12,"t":0.69,"x":25},{"c":"b","g":12,"t":0.69,"x":-25},
{"c":"b","g":13,"t":0.52,"x":25},{"c":"b","g":13,"t":0.52,"x":1.4},
{"c":"b","g":14,"t":0.563,"x":25},{"c":"b","g":14,"t":0.563,"x":-7.8},
{"c":"c","g":15,"t":0.5635,"x":25},{"c":"c","g":15,"t":0.5635,"x":7.5}
],
"f": [
{"c":"b","g":1,"t":0,"x":1.2},{"c":"b","g":1,"t":0.02,"x":1.8},{"c":"b","g":1,"t":0.04,"x":1.5},{"c":"b","g":1,"t":0.05,"x":2},{"c":"b","g":1,"t":0.06,"x":1.3},{"c":"b","g":1,"t":0.07,"x":1},{"c":"b","g":1,"t":0.08,"x":1.4},{"c":"b","g":1,"t":0.09,"x":1},{"c":"b","g":1,"t":0.1,"x":0.8},{"c":"b","g":1,"t":0.11,"x":0.9},{"c":"b","g":1,"t":0.12,"x":0.6},{"c":"b","g":1,"t":0.14,"x":0.5},{"c":"b","g":1,"t":0.16,"x":0.4},{"c":"b","g":1,"t":0.18,"x":0.3},{"c":"b","g":1,"t":0.2,"x":0.2},{"c":"b","g":1,"t":0.25,"x":0.05},{"c":"b","g":1,"t":0.3,"x":0},{"c":"b","g":1,"t":0.4,"x":-0.05},{"c":"b","g":1,"t":0.45,"x":-0.1},{"c":"b","g":1,"t":0.55,"x":-0.1},{"c":"b","g":1,"t":0.6,"x":-0.15},{"c":"b","g":1,"t":0.62,"x":-0.2},{"c":"b","g":1,"t":0.64,"x":-0.3},{"c":"b","g":1,"t":0.66,"x":-0.5},{"c":"b","g":1,"t":0.68,"x":-0.7},{"c":"b","g":1,"t":0.7,"x":-0.9},{"c":"b","g":1,"t":0.71,"x":-0.6},{"c":"b","g":1,"t":0.72,"x":-0.4},{"c":"b","g":1,"t":0.74,"x":-0.3},{"c":"b","g":1,"t":0.76,"x":-0.2},{"c":"b","g":1,"t":0.78,"x":-0.15},{"c":"b","g":1,"t":0.8,"x":-0.05},{"c":"b","g":1,"t":0.81,"x":0.15},{"c":"b","g":1,"t":0.83,"x":0.3},{"c":"b","g":1,"t":0.85,"x":0.25},{"c":"b","g":1,"t":0.87,"x":0.35},{"c":"b","g":1,"t":0.88,"x":0.5},{"c":"b","g":1,"t":0.9,"x":0.45},{"c":"b","g":1,"t":0.92,"x":0.45},{"c":"b","g":1,"t":0.922,"x":0},{"c":"b","g":1,"t":1,"x":0},
{"c":"g","g":2,"t":0,"x":1.3},{"c":"g","g":2,"t":0.02,"x":0.9},{"c":"g","g":2,"t":0.04,"x":1},{"c":"g","g":2,"t":0.06,"x":0.7},{"c":"g","g":2,"t":0.08,"x":0.5},{"c":"g","g":2,"t":0.1,"x":0.35},{"c":"g","g":2,"t":0.12,"x":0.25},{"c":"g","g":2,"t":0.15,"x":0.2},{"c":"g","g":2,"t":0.18,"x":0.15},{"c":"g","g":2,"t":0.2,"x":0},{"c":"g","g":2,"t":0.21,"x":-0.65},{"c":"g","g":2,"t":0.215,"x":-0.1},{"c":"g","g":2,"t":0.23,"x":0},{"c":"g","g":2,"t":0.3,"x":0},{"c":"g","g":2,"t":0.45,"x":0.05},{"c":"g","g":2,"t":0.47,"x":0.3},{"c":"g","g":2,"t":0.48,"x":0.65},{"c":"g","g":2,"t":0.5,"x":0.5},{"c":"g","g":2,"t":0.52,"x":0.6},{"c":"g","g":2,"t":0.53,"x":0.2},{"c":"g","g":2,"t":0.55,"x":0},{"c":"g","g":2,"t":0.6,"x":0},{"c":"g","g":2,"t":0.62,"x":0.2},{"c":"g","g":2,"t":0.625,"x":-0.3},{"c":"g","g":2,"t":0.64,"x":-0.35},{"c":"g","g":2,"t":0.66,"x":-0.3},{"c":"g","g":2,"t":0.68,"x":-0.1},{"c":"g","g":2,"t":0.7,"x":0.1},{"c":"g","g":2,"t":0.705,"x":-0.1},{"c":"g","g":2,"t":0.75,"x":0},{"c":"g","g":2,"t":1,"x":0},
{"c":"r","g":3,"t":0,"x":0.3},{"c":"r","g":3,"t":0.02,"x":0.1},{"c":"r","g":3,"t":1,"x":0},
{"c":"c","g":4,"t":0,"x":0.8},{"c":"c","g":4,"t":0.05,"x":0.3},{"c":"c","g":4,"t":0.1,"x":0.1},{"c":"c","g":4,"t":0.15,"x":0},{"c":"c","g":4,"t":0.24,"x":0},{"c":"c","g":4,"t":0.25,"x":5},{"c":"c","g":4,"t":0.255,"x":1.5},{"c":"c","g":4,"t":0.26,"x":1.3},{"c":"c","g":4,"t":0.265,"x":1.6},{"c":"c","g":4,"t":0.27,"x":1.2},{"c":"c","g":4,"t":0.275,"x":1.5},{"c":"c","g":4,"t":0.28,"x":1.3},{"c":"c","g":4,"t":0.285,"x":5},{"c":"c","g":4,"t":0.3,"x":5},{"c":"c","g":4,"t":0.305,"x":1.6},{"c":"c","g":4,"t":0.31,"x":1.5},{"c":"c","g":4,"t":0.32,"x":1.3},{"c":"c","g":4,"t":0.33,"x":1},{"c":"c","g":4,"t":0.34,"x":0.8},{"c":"c","g":4,"t":0.35,"x":0.6},{"c":"c","g":4,"t":0.36,"x":0.45},{"c":"c","g":4,"t":0.37,"x":0.8},{"c":"c","g":4,"t":0.38,"x":0.6},{"c":"c","g":4,"t":0.39,"x":0.9},{"c":"c","g":4,"t":0.4,"x":0.8},{"c":"c","g":4,"t":0.41,"x":1},{"c":"c","g":4,"t":0.42,"x":1.1},{"c":"c","g":4,"t":0.43,"x":1.3},{"c":"c","g":4,"t":0.44,"x":1.4},{"c":"c","g":4,"t":0.448,"x":1.4},{"c":"c","g":4,"t":0.45,"x":0.05},{"c":"c","g":4,"t":0.5,"x":0},{"c":"c","g":4,"t":1,"x":0},
{"c":"m","g":5,"t":0,"x":0.5},{"c":"m","g":5,"t":0.02,"x":0.1},{"c":"m","g":5,"t":0.027,"x":0},{"c":"m","g":5,"t":0.027,"x":-5},{"c":"m","g":5,"t":0.155,"x":-5},{"c":"m","g":5,"t":0.157,"x":-1.9},{"c":"m","g":5,"t":0.16,"x":-1.5},{"c":"m","g":5,"t":0.163,"x":-1.8},{"c":"m","g":5,"t":0.167,"x":-1.4},{"c":"m","g":5,"t":0.17,"x":-1.7},{"c":"m","g":5,"t":0.175,"x":-1.35},{"c":"m","g":5,"t":0.18,"x":-1.6},{"c":"m","g":5,"t":0.184,"x":-5},{"c":"m","g":5,"t":0.186,"x":-5},{"c":"m","g":5,"t":0.186,"x":0},{"c":"m","g":5,"t":0.25,"x":0.1},{"c":"m","g":5,"t":0.26,"x":0.3},{"c":"m","g":5,"t":0.27,"x":0.25},{"c":"m","g":5,"t":0.3,"x":0.2},{"c":"m","g":5,"t":0.32,"x":0.3},{"c":"m","g":5,"t":0.35,"x":0.1},{"c":"m","g":5,"t":0.4,"x":0},{"c":"m","g":5,"t":1,"x":0},
{"c":"y","g":6,"t":0,"x":0.5},{"c":"y","g":6,"t":0.03,"x":0.8},{"c":"y","g":6,"t":0.05,"x":1.2},{"c":"y","g":6,"t":0.07,"x":0.9},{"c":"y","g":6,"t":0.09,"x":0.6},{"c":"y","g":6,"t":0.1,"x":0.8},{"c":"y","g":6,"t":0.12,"x":1},{"c":"y","g":6,"t":0.13,"x":0.7},{"c":"y","g":6,"t":0.14,"x":1.1},{"c":"y","g":6,"t":0.145,"x":1.9},{"c":"y","g":6,"t":0.155,"x":1.9},{"c":"y","g":6,"t":0.16,"x":1.95},{"c":"y","g":6,"t":0.163,"x":1},{"c":"y","g":6,"t":0.165,"x":0.3},{"c":"y","g":6,"t":0.2,"x":0.1},{"c":"y","g":6,"t":0.25,"x":0},{"c":"y","g":6,"t":1,"x":0},
{"c":"k","g":7,"t":0,"x":1},{"c":"k","g":7,"t":0.02,"x":1.1},{"c":"k","g":7,"t":0.04,"x":0.8},{"c":"k","g":7,"t":0.06,"x":0.5},{"c":"k","g":7,"t":0.1,"x":0.3},{"c":"k","g":7,"t":0.15,"x":0.2},{"c":"k","g":7,"t":0.2,"x":0.05},{"c":"k","g":7,"t":0.3,"x":0},{"c":"k","g":7,"t":1,"x":0},
{"c":"r","g":8,"t":0,"x":0},{"c":"r","g":8,"t":1,"x":0}
],
"g": [
{"c":"b","g":1,"t":0,"x":5},{"c":"b","g":1,"t":0.005,"x":1.8},{"c":"b","g":1,"t":0.01,"x":5},{"c":"b","g":1,"t":0.03,"x":5},{"c":"b","g":1,"t":0.035,"x":1.8},{"c":"b","g":1,"t":0.04,"x":5},{"c":"b","g":1,"t":0.045,"x":0.3},{"c":"b","g":1,"t":0.05,"x":-0.2},{"c":"b","g":1,"t":0.055,"x":-0.6},{"c":"b","g":1,"t":0.06,"x":-0.9},{"c":"b","g":1,"t":0.065,"x":-0.7},{"c":"b","g":1,"t":0.07,"x":-1},{"c":"b","g":1,"t":0.075,"x":-0.8},{"c":"b","g":1,"t":0.08,"x":-1.1},{"c":"b","g":1,"t":0.085,"x":-0.9},{"c":"b","g":1,"t":0.09,"x":-1.2},{"c":"b","g":1,"t":0.095,"x":-0.9},{"c":"b","g":1,"t":0.1,"x":-1},{"c":"b","g":1,"t":0.105,"x":-1.4},{"c":"b","g":1,"t":0.107,"x":-1.8},{"c":"b","g":1,"t":0.107,"x":5},{"c":"b","g":1,"t":0.11,"x":1.5},{"c":"b","g":1,"t":0.115,"x":0.5},{"c":"b","g":1,"t":0.12,"x":1.2},{"c":"b","g":1,"t":0.125,"x":0.8},{"c":"b","g":1,"t":0.13,"x":1.6},{"c":"b","g":1,"t":0.135,"x":0.6},{"c":"b","g":1,"t":0.14,"x":1.5},{"c":"b","g":1,"t":0.15,"x":1.2},{"c":"b","g":1,"t":0.155,"x":1.7},{"c":"b","g":1,"t":0.16,"x":1},{"c":"b","g":1,"t":0.165,"x":1.4},{"c":"b","g":1,"t":0.17,"x":1.2},{"c":"b","g":1,"t":0.175,"x":1.8},{"c":"b","g":1,"t":0.18,"x":1.6},{"c":"b","g":1,"t":0.183,"x":5},{"c":"b","g":1,"t":0.183,"x":-5},{"c":"b","g":1,"t":0.19,"x":-5},{"c":"b","g":1,"t":0.195,"x":-1.9},{"c":"b","g":1,"t":0.2,"x":-1.5},{"c":"b","g":1,"t":0.205,"x":-1.9},{"c":"b","g":1,"t":0.21,"x":-1.3},{"c":"b","g":1,"t":0.215,"x":-5},{"c":"b","g":1,"t":0.22,"x":-1.6},{"c":"b","g":1,"t":0.225,"x":-1.2},{"c":"b","g":1,"t":0.23,"x":-2.2},{"c":"b","g":1,"t":0.235,"x":-1},{"c":"b","g":1,"t":0.24,"x":-0.8},{"c":"b","g":1,"t":0.245,"x":-1.2},{"c":"b","g":1,"t":0.25,"x":-0.5},{"c":"b","g":1,"t":0.255,"x":-1},{"c":"b","g":1,"t":0.26,"x":-1.4},{"c":"b","g":1,"t":0.265,"x":-1.3},{"c":"b","g":1,"t":0.27,"x":-1.6},{"c":"b","g":1,"t":0.275,"x":-0.6},{"c":"b","g":1,"t":0.28,"x":-0.05},{"c":"b","g":1,"t":0.29,"x":0},{"c":"b","g":1,"t":0.3,"x":-0.05},{"c":"b","g":1,"t":0.34,"x":0},
{"c":"g","g":2,"t":0,"x":1.2},{"c":"g","g":2,"t":0.02,"x":0.8},{"c":"g","g":2,"t":0.04,"x":0.4},{"c":"g","g":2,"t":0.06,"x":0.1},{"c":"g","g":2,"t":0.1,"x":0},{"c":"g","g":2,"t":1,"x":0},
{"c":"r","g":3,"t":0,"x":5},{"c":"r","g":3,"t":0.01,"x":1},{"c":"r","g":3,"t":0.02,"x":1.8},{"c":"r","g":3,"t":0.03,"x":0.9},{"c":"r","g":3,"t":0.04,"x":1.5},{"c":"r","g":3,"t":0.05,"x":1.7},{"c":"r","g":3,"t":0.055,"x":5},{"c":"r","g":3,"t":0.057,"x":0.2},{"c":"r","g":3,"t":0.07,"x":0.1},{"c":"r","g":3,"t":0.1,"x":0.05},{"c":"r","g":3,"t":0.12,"x":0},{"c":"r","g":3,"t":1,"x":0},
{"c":"c","g":4,"t":0,"x":1.5},{"c":"c","g":4,"t":0.02,"x":0.5},{"c":"c","g":4,"t":0.04,"x":0.2},{"c":"c","g":4,"t":0.05,"x":-0.3},{"c":"c","g":4,"t":0.055,"x":-0.5},{"c":"c","g":4,"t":0.06,"x":-0.2},{"c":"c","g":4,"t":0.07,"x":-0.25},{"c":"c","g":4,"t":0.08,"x":-0.15},{"c":"c","g":4,"t":0.1,"x":-0.3},{"c":"c","g":4,"t":0.11,"x":-0.1},{"c":"c","g":4,"t":0.12,"x":0},{"c":"c","g":4,"t":1,"x":0},
{"c":"m","g":5,"t":0,"x":5},{"c":"m","g":5,"t":0.01,"x":1.5},{"c":"m","g":5,"t":0.02,"x":2.2},{"c":"m","g":5,"t":0.03,"x":1},{"c":"m","g":5,"t":0.04,"x":0.6},{"c":"m","g":5,"t":0.05,"x":0.8},{"c":"m","g":5,"t":0.06,"x":0.5},{"c":"m","g":5,"t":0.07,"x":0.4},{"c":"m","g":5,"t":0.08,"x":0.3},{"c":"m","g":5,"t":0.09,"x":0.5},{"c":"m","g":5,"t":0.1,"x":0.8},{"c":"m","g":5,"t":0.11,"x":1.1},{"c":"m","g":5,"t":0.12,"x":0.5},{"c":"m","g":5,"t":0.13,"x":0.1},{"c":"m","g":5,"t":0.14,"x":0},{"c":"m","g":5,"t":1,"x":0},
{"c":"y","g":6,"t":0,"x":1.5},{"c":"y","g":6,"t":0.02,"x":0.9},{"c":"y","g":6,"t":0.05,"x":0.2},{"c":"y","g":6,"t":0.1,"x":0},{"c":"y","g":6,"t":1,"x":0},
{"c":"k","g":7,"t":0,"x":1.8},{"c":"k","g":7,"t":0.01,"x":1.2},{"c":"k","g":7,"t":0.03,"x":0.6},{"c":"k","g":7,"t":0.06,"x":0.2},{"c":"k","g":7,"t":0.1,"x":0.05},{"c":"k","g":7,"t":0.12,"x":0},{"c":"k","g":7,"t":1,"x":0},
{"c":"p","g":8,"t":0,"x":0},{"c":"p","g":8,"t":1,"x":0}
]
},
"columns": 4,
"spacing": {"row": 177, "column": 53},
"bounds": "flush",
"concat": [
{"width":130,"height":560,"title":"λ=1,μ=10,α=0.5","data":{"name":"a"},"mark":{"type":"line","clip":true,"strokeWidth":1},
"encoding":{"x":{"field":"x","type":"quantitative","scale":{"domain":[-20,20],"reverse":true,"nice":false,"zero":false},"axis":{"values":[-20,-10,0,10,20],"title":"X(t)","labelExpr":"'' + datum.value"}},
"y":{"field":"t","type":"quantitative","scale":{"domain":[0,1],"nice":false},"axis":{"orient":"right","values":[0,0.1,0.2,0.3,0.4,0.5,0.6,0.7,0.8,0.9,1],"title":"t","labelExpr":"'' + datum.value"}},
"color":{"field":"c","type":"nominal","scale":{"domain":["b","g","r","c","m","y","k","p"],"range":["#0000ff","#008000","#ff0000","#00bfbf","#bf00bf","#bfbf00","#404040","#e0a4ac"]},"legend":null},
"detail":{"field":"g","type":"nominal"},"order":{"value":null}}},
{"width":130,"height":560,"title":"λ=1,μ=10,α=1","data":{"name":"b"},"mark":{"type":"line","clip":true,"strokeWidth":1},
"encoding":{"x":{"field":"x","type":"quantitative","scale":{"domain":[-2,2],"reverse":true,"nice":false,"zero":false},"axis":{"values":[-2,-1,0,1,2],"title":"X(t)","labelExpr":"'' + datum.value"}},
"y":{"field":"t","type":"quantitative","scale":{"domain":[0,1],"nice":false},"axis":{"orient":"right","values":[0,0.1,0.2,0.3,0.4,0.5,0.6,0.7,0.8,0.9,1],"title":"t","labelExpr":"'' + datum.value"}},
"color":{"field":"c","type":"nominal","scale":{"domain":["b","g","r","c","m","y","k","p"],"range":["#0000ff","#008000","#ff0000","#00bfbf","#bf00bf","#bfbf00","#404040","#e0a4ac"]},"legend":null},
"detail":{"field":"g","type":"nominal"},"order":{"value":null}}},
{"width":130,"height":560,"title":"λ=1,μ=10,α=1.5","data":{"name":"c"},"mark":{"type":"line","clip":true,"strokeWidth":1},
"encoding":{"x":{"field":"x","type":"quantitative","scale":{"domain":[-2,2],"reverse":true,"nice":false,"zero":false},"axis":{"values":[-2,-1,0,1,2],"title":"X(t)","labelExpr":"'' + datum.value"}},
"y":{"field":"t","type":"quantitative","scale":{"domain":[0,1],"nice":false},"axis":{"orient":"right","values":[0,0.1,0.2,0.3,0.4,0.5,0.6,0.7,0.8,0.9,1],"title":"t","labelExpr":"'' + datum.value"}},
"color":{"field":"c","type":"nominal","scale":{"domain":["b","g","r","c","m","y","k","p"],"range":["#0000ff","#008000","#ff0000","#00bfbf","#bf00bf","#bfbf00","#404040","#e0a4ac"]},"legend":null},
"detail":{"field":"g","type":"nominal"},"order":{"value":null}}},
{"width":130,"height":560,"data":{"values":[]},"mark":{"type":"point"}},
{"width":130,"height":560,"title":"λ=1,μ=10,α=0.25","data":{"name":"d"},"mark":{"type":"line","clip":true,"strokeWidth":1},
"encoding":{"x":{"field":"x","type":"quantitative","scale":{"domain":[-20,20],"reverse":true,"nice":false,"zero":false},"axis":{"values":[-20,-10,0,10,20],"title":"X(t)","labelExpr":"'' + datum.value"}},
"y":{"field":"t","type":"quantitative","scale":{"domain":[0,1],"nice":false},"axis":{"orient":"right","values":[0,0.1,0.2,0.3,0.4,0.5,0.6,0.7,0.8,0.9,1],"title":"t","labelExpr":"'' + datum.value"}},
"color":{"field":"c","type":"nominal","scale":{"domain":["b","g","r","c","m","y","k","p"],"range":["#0000ff","#008000","#ff0000","#00bfbf","#bf00bf","#bfbf00","#404040","#e0a4ac"]},"legend":null},
"detail":{"field":"g","type":"nominal"},"order":{"value":null}}},
{"width":130,"height":560,"title":"λ=1,μ=10,α=0.75","data":{"name":"e"},"mark":{"type":"line","clip":true,"strokeWidth":1},
"encoding":{"x":{"field":"x","type":"quantitative","scale":{"domain":[-20,20],"reverse":true,"nice":false,"zero":false},"axis":{"values":[-20,-10,0,10,20],"title":"X(t)","labelExpr":"'' + datum.value"}},
"y":{"field":"t","type":"quantitative","scale":{"domain":[0,1],"nice":false},"axis":{"orient":"right","values":[0,0.1,0.2,0.3,0.4,0.5,0.6,0.7,0.8,0.9,1],"title":"t","labelExpr":"'' + datum.value"}},
"color":{"field":"c","type":"nominal","scale":{"domain":["b","g","r","c","m","y","k","p"],"range":["#0000ff","#008000","#ff0000","#00bfbf","#bf00bf","#bfbf00","#404040","#e0a4ac"]},"legend":null},
"detail":{"field":"g","type":"nominal"},"order":{"value":null}}},
{"width":130,"height":560,"title":"λ=1,μ=10,α=1.25","data":{"name":"f"},"mark":{"type":"line","clip":true,"strokeWidth":1},
"encoding":{"x":{"field":"x","type":"quantitative","scale":{"domain":[-2,2],"reverse":true,"nice":false,"zero":false},"axis":{"values":[-2,-1,0,1,2],"title":"X(t)","labelExpr":"'' + datum.value"}},
"y":{"field":"t","type":"quantitative","scale":{"domain":[0,1],"nice":false},"axis":{"orient":"right","values":[0,0.1,0.2,0.3,0.4,0.5,0.6,0.7,0.8,0.9,1],"title":"t","labelExpr":"'' + datum.value"}},
"color":{"field":"c","type":"nominal","scale":{"domain":["b","g","r","c","m","y","k","p"],"range":["#0000ff","#008000","#ff0000","#00bfbf","#bf00bf","#bfbf00","#404040","#e0a4ac"]},"legend":null},
"detail":{"field":"g","type":"nominal"},"order":{"value":null}}},
{"width":130,"height":560,"title":"λ=1,μ=10,α=1.75","data":{"name":"g"},"mark":{"type":"line","clip":true,"strokeWidth":1},
"encoding":{"x":{"field":"x","type":"quantitative","scale":{"domain":[-2,2],"reverse":true,"nice":false,"zero":false},"axis":{"values":[-2,-1,0,1,2],"title":"X(t)","labelExpr":"'' + datum.value"}},
"y":{"field":"t","type":"quantitative","scale":{"domain":[0,1],"nice":false},"axis":{"orient":"right","values":[0,0.1,0.2,0.3,0.4,0.5,0.6,0.7,0.8,0.9,1],"title":"t","labelExpr":"'' + datum.value"}},
"color":{"field":"c","type":"nominal","scale":{"domain":["b","g","r","c","m","y","k","p"],"range":["#0000ff","#008000","#ff0000","#00bfbf","#bf00bf","#bfbf00","#404040","#e0a4ac"]},"legend":null},
"detail":{"field":"g","type":"nominal"},"order":{"value":null}}}
]
}
